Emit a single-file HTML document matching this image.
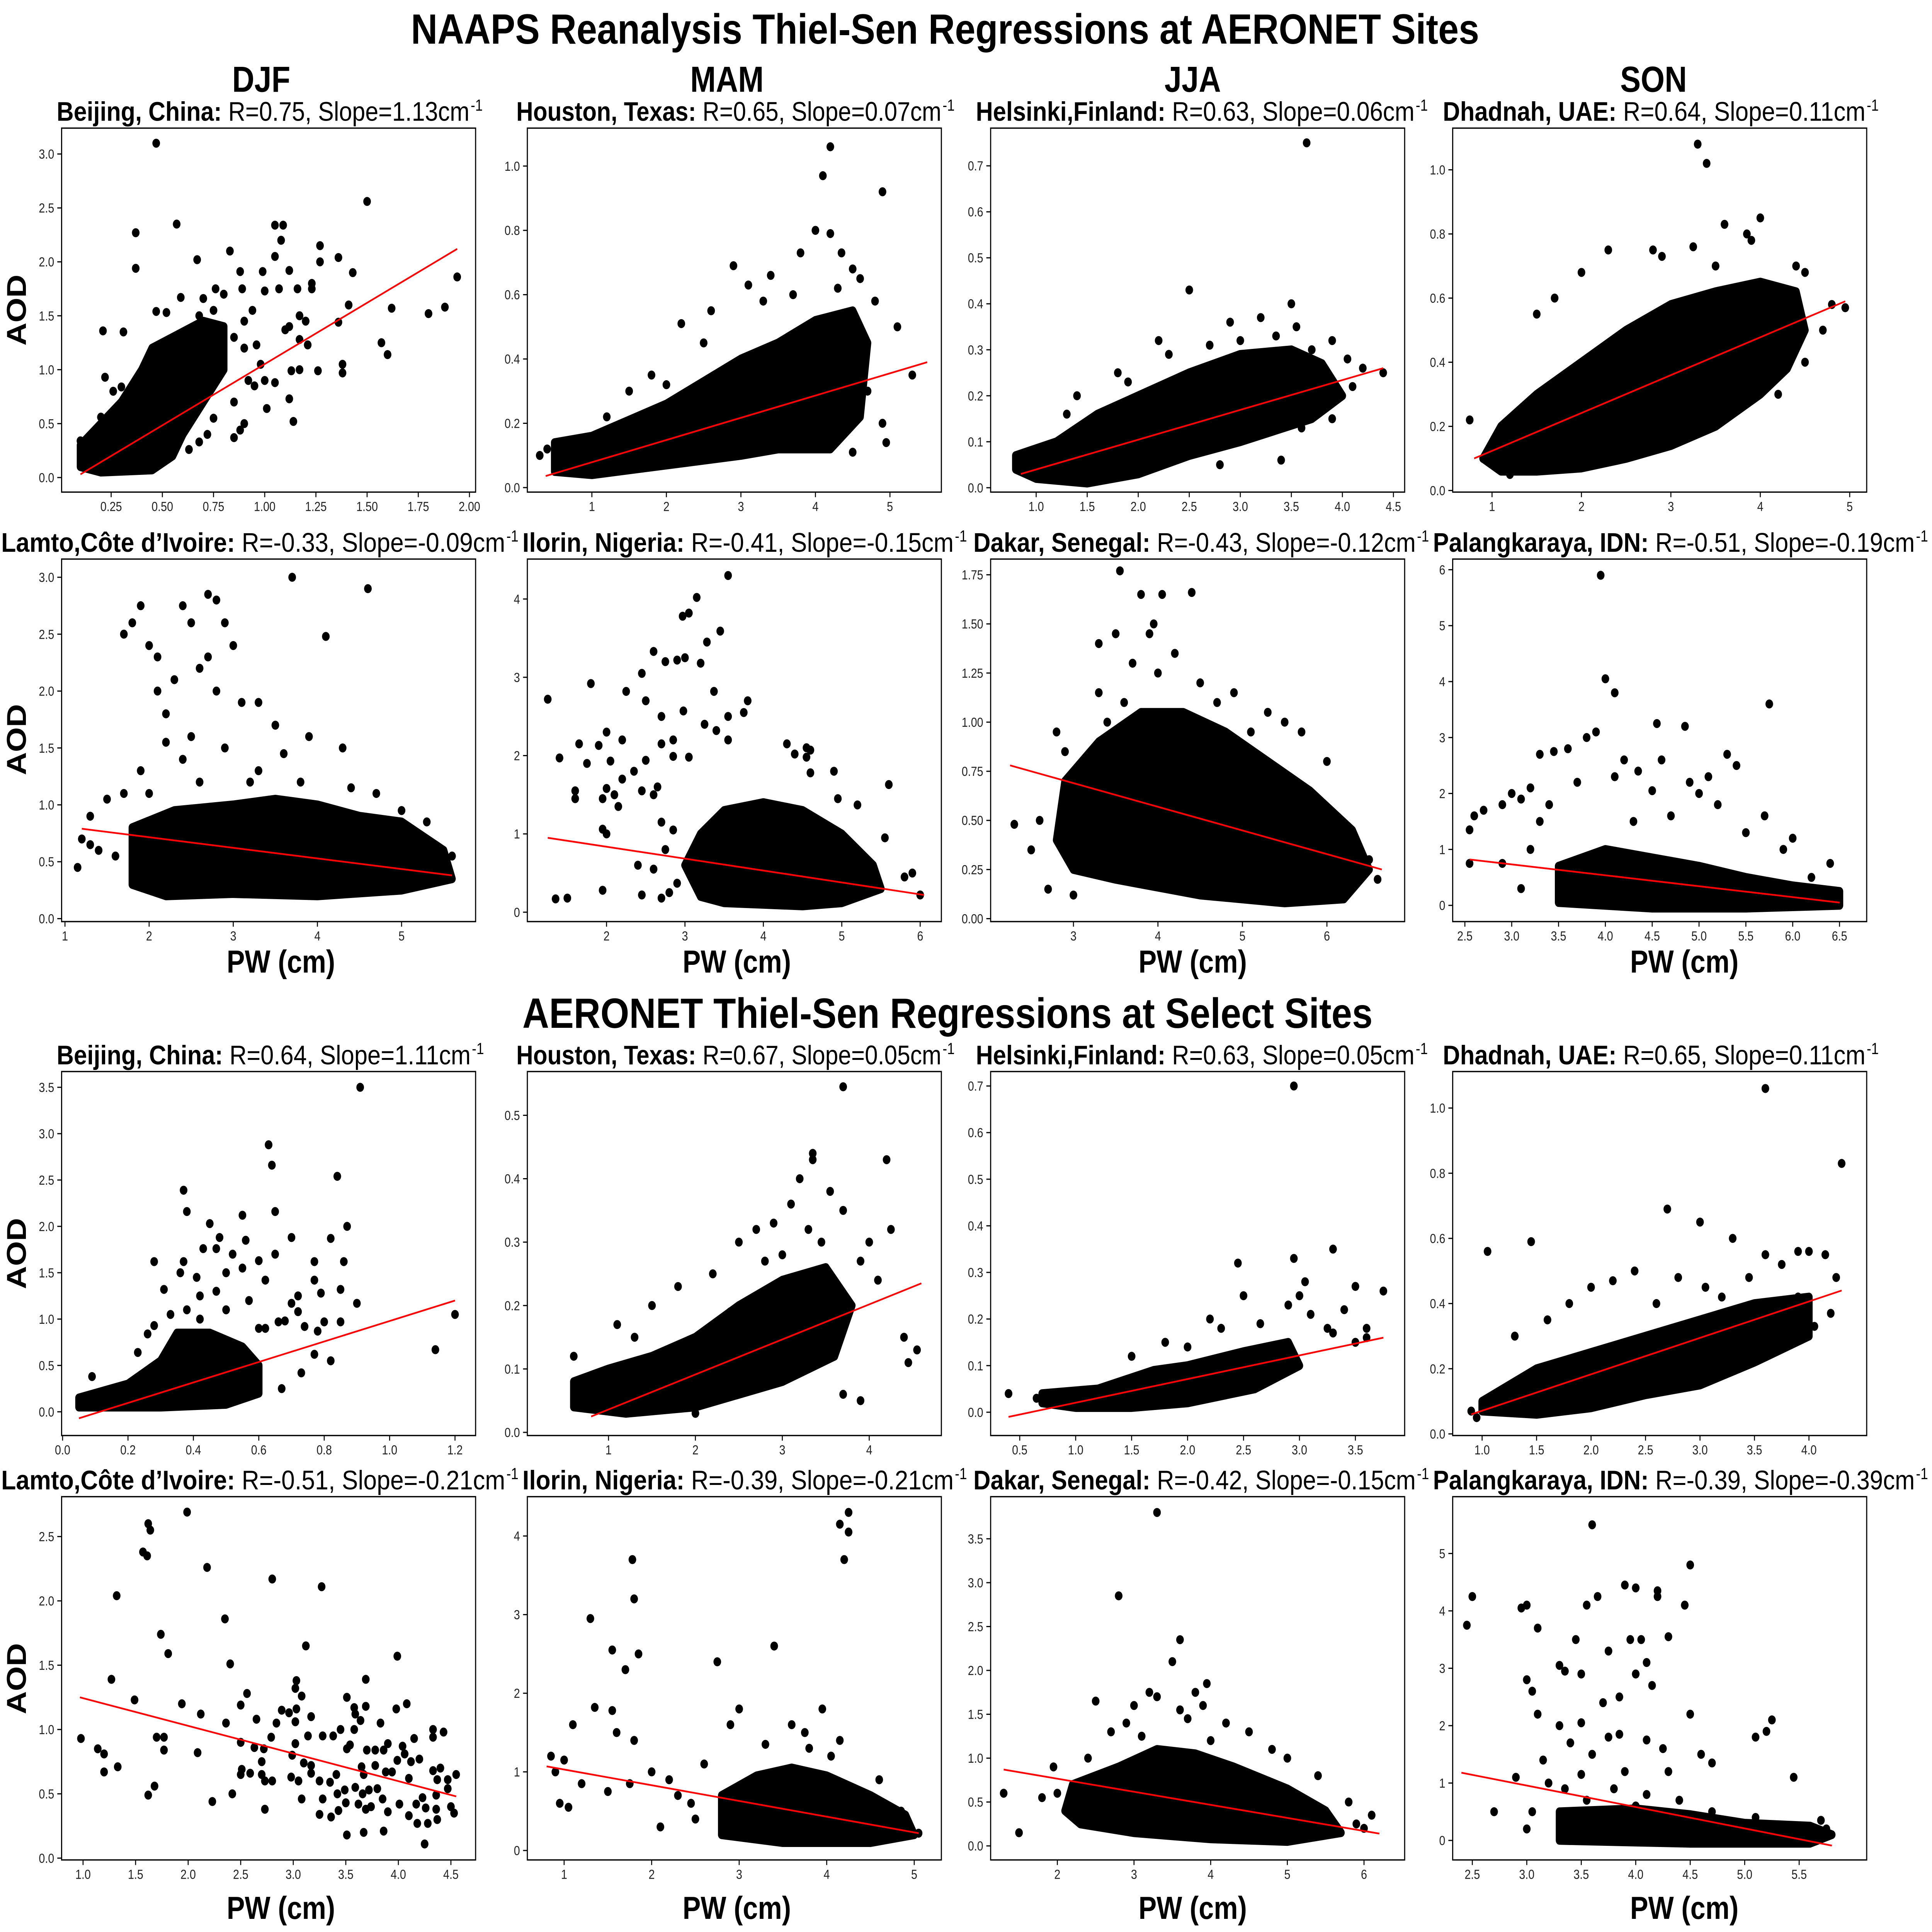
<!DOCTYPE html>
<html><head><meta charset="utf-8"><style>
html,body{margin:0;padding:0;background:#fff;width:100%;height:100%;overflow:hidden;}
svg{display:block;width:100vw;height:100vh;}
text{font-family:"Liberation Sans",sans-serif;}
</style></head><body>
<svg id="fig" xmlns="http://www.w3.org/2000/svg" viewBox="0 0 1568 1327" preserveAspectRatio="none">
<rect width="1568" height="1327" fill="#fff"/>
<text x="767" y="30" font-size="29" font-weight="bold" text-anchor="middle" textLength="867" lengthAdjust="spacingAndGlyphs">NAAPS Reanalysis Thiel-Sen Regressions at AERONET Sites</text>
<text x="212" y="63" font-size="25" font-weight="bold" text-anchor="middle">DJF</text>
<text x="590" y="63" font-size="25" font-weight="bold" text-anchor="middle">MAM</text>
<text x="968" y="63" font-size="25" font-weight="bold" text-anchor="middle">JJA</text>
<text x="1342" y="63" font-size="25" font-weight="bold" text-anchor="middle">SON</text>
<text x="769" y="706" font-size="29" font-weight="bold" text-anchor="middle" textLength="690" lengthAdjust="spacingAndGlyphs">AERONET Thiel-Sen Regressions at Select Sites</text>
<g id="panels"></g>
</svg>
<script>
// ---------- data ----------
const p1XTicks=[0.25,0.5,0.75,1.0,1.25,1.5,1.75,2.0];
const p1YTicks=[0,0.5,1.0,1.5,2.0,2.5,3.0];
const p1Line=[[0.1,0.03],[1.94,2.12]];
const p1Cloud=[[0.1,0.1],[0.1,0.3],[0.2,0.5],[0.3,0.7],[0.4,1.0],[0.45,1.2],[0.55,1.3],[0.7,1.45],[0.8,1.4],[0.8,1.0],[0.7,0.7],[0.6,0.4],[0.55,0.2],[0.45,0.07],[0.2,0.05]];
const p1Pts=[[0.47,3.1],[0.37,2.27],[0.37,1.94],[0.57,2.35],[0.67,2.02],[0.83,2.1],[1.05,2.34],[1.09,2.34],[1.08,2.2],[1.05,2.05],[1.27,2.15],[1.27,2.0],[1.36,2.04],[1.43,1.9],[1.5,2.56],[1.94,1.86],[0.88,1.91],[0.99,1.91],[1.12,1.92],[0.76,1.75],[0.89,1.75],[1.0,1.73],[1.07,1.75],[1.16,1.75],[1.23,1.8],[1.23,1.75],[0.59,1.67],[0.7,1.66],[0.8,1.7],[0.21,1.36],[0.31,1.35],[0.22,0.93],[0.47,1.54],[0.52,1.53],[0.94,1.55],[1.41,1.6],[1.62,1.57],[1.8,1.52],[1.88,1.58],[1.36,1.44],[1.17,1.5],[1.2,1.45],[1.1,1.37],[1.12,1.4],[1.17,1.28],[1.21,1.23],[1.57,1.25],[1.6,1.14],[1.38,1.05],[1.38,0.97],[1.26,0.99],[1.17,1.0],[1.13,0.99],[1.12,0.73],[1.14,0.52],[1.01,0.64],[0.9,0.5],[0.85,0.37],[0.88,0.44],[1.0,0.9],[1.05,0.88],[0.96,1.23],[0.98,1.05],[0.92,0.9],[0.95,0.85],[0.75,1.55],[0.68,1.5],[0.65,1.22],[0.85,1.3],[0.9,1.2],[0.9,1.45],[0.26,0.8],[0.3,0.84],[0.2,0.56],[0.18,0.45],[0.14,0.34],[0.1,0.34],[0.85,0.7],[0.75,0.55],[0.63,0.26],[0.68,0.33],[0.72,0.4]];

const p2XTicks=[1,2,3,4,5];
const p2YTicks=[0,0.2,0.4,0.6,0.8,1.0];
const p2Line=[[0.38,0.036],[5.5,0.39]];
const p2Cloud=[[0.5,0.05],[0.5,0.14],[1,0.16],[2,0.26],[2.5,0.33],[3,0.40],[3.5,0.45],[4,0.52],[4.5,0.55],[4.7,0.45],[4.6,0.22],[4.2,0.12],[3.5,0.12],[3,0.10],[2,0.07],[1,0.04]];
const p2Pts=[[4.2,1.06],[4.1,0.97],[4.9,0.92],[4.0,0.8],[4.2,0.79],[3.8,0.73],[4.35,0.73],[4.5,0.68],[2.9,0.69],[3.4,0.66],[3.7,0.6],[3.1,0.63],[2.6,0.55],[2.2,0.51],[3.3,0.58],[4.6,0.65],[5.3,0.35],[5.1,0.5],[4.95,0.14],[4.7,0.3],[4.9,0.2],[0.4,0.12],[0.3,0.1],[1.5,0.3],[1.8,0.35],[2.5,0.45],[3.9,0.2],[4.5,0.11],[2.0,0.32],[1.2,0.22],[4.8,0.58],[4.3,0.62]];

const p3XTicks=[1.0,1.5,2.0,2.5,3.0,3.5,4.0,4.5];
const p3YTicks=[0,0.1,0.2,0.3,0.4,0.5,0.6,0.7];
const p3Line=[[0.85,0.03],[4.4,0.26]];
const p3Cloud=[[0.8,0.04],[0.8,0.07],[1.2,0.1],[1.6,0.16],[2.0,0.2],[2.5,0.25],[3,0.29],[3.5,0.3],[3.8,0.27],[4.0,0.2],[3.7,0.15],[3.0,0.1],[2.5,0.07],[2,0.03],[1.5,0.01],[1.0,0.02]];
const p3Pts=[[3.65,0.75],[2.5,0.43],[3.5,0.4],[3.2,0.37],[2.9,0.36],[3.35,0.33],[2.7,0.31],[3.9,0.32],[4.05,0.28],[3.7,0.3],[4.4,0.25],[4.2,0.26],[2.2,0.32],[1.8,0.25],[1.4,0.2],[3.9,0.15],[3.6,0.13],[3.4,0.06],[2.8,0.05],[1.3,0.16],[2.3,0.29],[3.0,0.32],[4.1,0.22],[3.55,0.35],[1.9,0.23]];

const p4XTicks=[1,2,3,4,5];
const p4YTicks=[0,0.2,0.4,0.6,0.8,1.0];
const p4Line=[[0.8,0.1],[4.95,0.59]];
const p4Cloud=[[0.9,0.1],[1.1,0.2],[1.5,0.3],[2,0.4],[2.5,0.5],[3,0.58],[3.5,0.62],[4,0.65],[4.4,0.62],[4.5,0.5],[4.3,0.38],[4,0.3],[3.5,0.2],[3,0.14],[2.5,0.1],[2,0.07],[1.5,0.06],[1.1,0.06]];
const p4Pts=[[3.3,1.08],[3.4,1.02],[2.3,0.75],[3.6,0.83],[4.0,0.85],[4.4,0.7],[4.5,0.68],[3.85,0.8],[2.9,0.73],[2.0,0.68],[1.7,0.6],[1.5,0.55],[2.8,0.75],[3.25,0.76],[4.8,0.58],[4.7,0.5],[4.95,0.57],[0.75,0.22],[0.9,0.1],[1.2,0.05],[4.2,0.3],[4.5,0.4],[3.9,0.78],[3.5,0.7]];

const p5XTicks=[1,2,3,4,5];
const p5YTicks=[0,0.5,1.0,1.5,2.0,2.5,3.0];
const p5Line=[[1.2,0.79],[5.6,0.38]];
const p5Cloud=[[1.8,0.3],[1.8,0.8],[2.3,0.95],[3,1.0],[3.5,1.05],[4,1.0],[4.5,0.9],[5,0.85],[5.5,0.6],[5.6,0.35],[5,0.25],[4,0.2],[3,0.22],[2.2,0.2]];
const p5Pts=[[2.7,2.85],[2.8,2.8],[1.9,2.75],[2.4,2.75],[2.5,2.6],[1.7,2.5],[1.8,2.6],[2.0,2.4],[2.9,2.6],[3.0,2.4],[3.7,3.0],[4.1,2.48],[4.6,2.9],[2.1,2.3],[2.3,2.1],[2.6,2.2],[2.1,2.0],[2.7,2.3],[3.3,1.9],[3.5,1.7],[2.2,1.8],[2.5,1.6],[3.1,1.9],[2.8,2.0],[3.9,1.6],[4.3,1.5],[2.4,1.4],[2.9,1.5],[1.9,1.3],[2.6,1.2],[3.3,1.3],[1.5,1.05],[1.3,0.9],[1.2,0.7],[1.15,0.45],[1.4,0.6],[1.6,0.55],[1.7,1.1],[2.0,1.1],[3.2,1.2],[3.8,1.2],[4.4,1.15],[5.0,0.95],[5.3,0.85],[5.6,0.55],[1.3,0.65],[2.2,1.55],[3.6,1.45],[4.7,1.1]];

const p6XTicks=[2,3,4,5,6];
const p6YTicks=[0,1,2,3,4];
const p6Line=[[1.25,0.95],[6.05,0.22]];
const p6Cloud=[[3.2,0.2],[3.0,0.6],[3.2,1.0],[3.5,1.3],[4,1.4],[4.5,1.3],[5,1.0],[5.4,0.6],[5.5,0.3],[5,0.12],[4.5,0.08],[4,0.1],[3.5,0.12]];
const p6Pts=[[3.55,4.3],[3.15,4.02],[2.97,3.78],[3.05,3.82],[3.45,3.59],[3.28,3.45],[2.6,3.33],[2.75,3.2],[2.9,3.22],[3.0,3.25],[3.2,3.18],[2.45,3.05],[1.8,2.92],[1.25,2.72],[2.25,2.82],[2.5,2.7],[3.37,2.82],[3.8,2.7],[3.75,2.55],[2.7,2.5],[2.98,2.57],[3.55,2.5],[3.25,2.4],[3.4,2.32],[2.0,2.3],[2.2,2.2],[2.85,2.2],[3.55,2.2],[2.7,2.15],[1.65,2.15],[1.9,2.13],[1.4,1.97],[1.75,1.9],[2.05,1.93],[2.5,1.94],[2.85,1.99],[3.05,1.98],[2.35,1.8],[2.2,1.7],[1.6,1.55],[1.6,1.45],[2.0,1.58],[2.1,1.5],[1.95,1.45],[2.45,1.55],[2.15,1.35],[2.6,1.5],[2.65,1.6],[4.3,2.15],[4.4,2.02],[4.55,2.1],[4.6,2.07],[4.55,1.98],[4.9,1.8],[4.6,1.78],[5.6,1.63],[5.2,1.37],[4.95,1.45],[5.55,0.95],[5.9,0.5],[5.8,0.45],[6.0,0.22],[1.95,0.28],[1.35,0.17],[1.5,0.18],[2.45,0.22],[2.7,0.18],[2.4,0.6],[1.95,1.06],[2.0,1.0],[2.75,0.8],[2.6,0.55],[2.8,0.25],[2.9,0.37],[2.85,1.05],[2.7,1.15]];

const p7XTicks=[3,4,5,6];
const p7YTicks=[0,0.25,0.5,0.75,1.0,1.25,1.5,1.75];
const p7Line=[[2.25,0.78],[6.65,0.25]];
const p7Cloud=[[2.8,0.4],[2.9,0.7],[3.3,0.9],[3.8,1.05],[4.3,1.05],[4.8,0.95],[5.3,0.8],[5.8,0.65],[6.3,0.45],[6.5,0.25],[6.2,0.1],[5.5,0.08],[4.5,0.12],[3.5,0.2],[3.0,0.25]];
const p7Pts=[[3.55,1.77],[3.8,1.65],[4.05,1.65],[4.4,1.66],[3.95,1.5],[3.9,1.45],[3.5,1.45],[3.3,1.4],[3.7,1.3],[4.2,1.35],[4.0,1.25],[3.3,1.15],[3.6,1.1],[4.5,1.2],[4.9,1.15],[5.3,1.05],[5.5,1.0],[5.7,0.95],[6.0,0.8],[2.3,0.48],[2.5,0.35],[2.6,0.5],[2.8,0.95],[2.9,0.85],[3.1,0.7],[2.7,0.15],[3.0,0.12],[6.6,0.2],[6.5,0.3],[4.7,1.1],[5.1,0.95],[3.4,1.0]];

const p8XTicks=[2.5,3.0,3.5,4.0,4.5,5.0,5.5,6.0,6.5];
const p8YTicks=[0,1,2,3,4,5,6];
const p8Line=[[2.55,0.82],[6.5,0.05]];
const p8Cloud=[[3.5,0.05],[3.5,0.7],[4,1.0],[4.5,0.85],[5,0.7],[5.5,0.5],[6,0.35],[6.5,0.25],[6.5,0.0],[5.5,-0.05],[4.5,-0.05]];
const p8Pts=[[3.95,5.9],[4.0,4.05],[4.1,3.8],[4.85,3.2],[4.55,3.25],[5.4,2.5],[5.3,2.7],[5.1,2.3],[4.6,2.6],[4.9,2.2],[4.2,2.6],[4.35,2.4],[3.6,2.8],[3.3,2.7],[3.45,2.75],[3.2,2.1],[3.0,2.0],[2.9,1.8],[2.6,1.6],[2.55,1.35],[2.7,1.7],[3.1,1.9],[3.9,3.1],[3.8,3.0],[4.1,2.3],[4.5,2.05],[5.0,2.0],[5.2,1.8],[5.7,1.6],[6.0,1.2],[5.9,1.0],[6.4,0.75],[6.2,0.5],[5.75,3.6],[3.2,1.0],[2.9,0.75],[3.1,0.3],[2.55,0.75],[3.3,1.5],[3.7,2.2],[4.7,1.6],[4.3,1.5],[5.5,1.3],[3.4,1.8]];

const p9XTicks=[0.0,0.2,0.4,0.6,0.8,1.0,1.2];
const p9YTicks=[0,0.5,1.0,1.5,2.0,2.5,3.0,3.5];
const p9Line=[[0.05,-0.07],[1.2,1.2]];
const p9Cloud=[[0.05,0.05],[0.05,0.15],[0.2,0.3],[0.3,0.55],[0.35,0.85],[0.45,0.85],[0.55,0.7],[0.6,0.5],[0.6,0.2],[0.5,0.08],[0.3,0.05],[0.15,0.05]];
const p9Pts=[[0.91,3.5],[0.63,2.88],[0.64,2.66],[0.84,2.54],[0.37,2.39],[0.38,2.16],[0.65,2.16],[0.55,2.12],[0.45,2.03],[0.87,2.0],[0.48,1.88],[0.7,1.88],[0.82,1.87],[0.56,1.85],[0.43,1.76],[0.47,1.76],[0.52,1.7],[0.65,1.7],[0.28,1.62],[0.37,1.62],[0.6,1.63],[0.77,1.62],[0.86,1.62],[0.36,1.5],[0.5,1.5],[0.62,1.42],[0.77,1.42],[0.85,1.32],[0.31,1.32],[0.72,1.25],[0.79,1.28],[0.47,1.3],[0.42,1.25],[0.7,1.17],[0.9,1.17],[0.57,1.2],[1.2,1.05],[1.14,0.67],[0.66,0.97],[0.72,1.08],[0.68,0.98],[0.74,0.92],[0.8,0.97],[0.85,0.97],[0.78,0.87],[0.82,0.55],[0.77,0.62],[0.73,0.42],[0.67,0.25],[0.6,0.9],[0.28,0.93],[0.26,0.84],[0.23,0.64],[0.09,0.38],[0.42,1.0],[0.5,1.1],[0.62,0.9],[0.55,1.55],[0.41,1.45],[0.33,1.05],[0.38,1.1]];

const p10XTicks=[1,2,3,4];
const p10YTicks=[0,0.1,0.2,0.3,0.4,0.5];
const p10Line=[[0.8,0.025],[4.6,0.235]];
const p10Cloud=[[0.6,0.04],[0.6,0.08],[1,0.1],[1.5,0.12],[2,0.15],[2.5,0.2],[3,0.24],[3.5,0.26],[3.8,0.2],[3.6,0.12],[3,0.08],[2.5,0.06],[2,0.04],[1.2,0.03]];
const p10Pts=[[3.7,0.545],[3.35,0.43],[3.35,0.44],[4.2,0.43],[4.25,0.32],[3.2,0.4],[3.55,0.38],[3.1,0.36],[2.9,0.33],[3.3,0.32],[3.7,0.35],[4.0,0.3],[2.5,0.3],[2.7,0.32],[2.2,0.25],[1.8,0.23],[1.5,0.2],[1.1,0.17],[0.6,0.12],[4.55,0.13],[4.45,0.11],[4.4,0.15],[3.9,0.05],[3.7,0.06],[2.0,0.03],[2.4,0.19],[3.9,0.27],[4.1,0.24],[3.0,0.28],[2.8,0.27],[1.3,0.15],[3.45,0.3]];

const p11XTicks=[0.5,1.0,1.5,2.0,2.5,3.0,3.5];
const p11YTicks=[0,0.1,0.2,0.3,0.4,0.5,0.6,0.7];
const p11Line=[[0.4,-0.01],[3.75,0.16]];
const p11Cloud=[[0.7,0.02],[0.7,0.04],[1.2,0.05],[1.7,0.09],[2,0.1],[2.5,0.13],[2.9,0.15],[3.0,0.1],[2.6,0.05],[2,0.02],[1.5,0.01],[1.0,0.01]];
const p11Pts=[[2.95,0.7],[2.95,0.33],[3.3,0.35],[2.45,0.32],[3.05,0.28],[3.0,0.25],[3.75,0.26],[3.5,0.27],[2.9,0.23],[2.5,0.25],[3.4,0.22],[3.25,0.18],[2.2,0.2],[2.3,0.18],[1.8,0.15],[1.5,0.12],[3.6,0.18],[3.6,0.16],[3.3,0.17],[0.4,0.04],[0.65,0.03],[3.5,0.15],[2.65,0.19],[3.1,0.21],[2.0,0.14],[2.7,0.08]];

const p12XTicks=[1.0,1.5,2.0,2.5,3.0,3.5,4.0];
const p12YTicks=[0,0.2,0.4,0.6,0.8,1.0];
const p12Line=[[0.9,0.06],[4.3,0.44]];
const p12Cloud=[[1.0,0.07],[1.0,0.1],[1.5,0.2],[2,0.25],[2.5,0.3],[3,0.35],[3.5,0.4],[4,0.42],[4.0,0.3],[3.5,0.22],[3,0.15],[2.5,0.12],[2,0.08],[1.5,0.06]];
const p12Pts=[[3.6,1.06],[4.3,0.83],[2.7,0.69],[3.0,0.65],[1.05,0.56],[1.45,0.59],[3.3,0.6],[3.6,0.55],[3.9,0.56],[4.0,0.56],[4.15,0.55],[3.75,0.52],[2.4,0.5],[2.2,0.47],[3.05,0.45],[3.45,0.48],[2.0,0.45],[4.25,0.48],[4.2,0.37],[3.9,0.42],[2.8,0.48],[1.8,0.4],[1.6,0.35],[1.3,0.3],[0.9,0.07],[0.95,0.05],[1.4,0.08],[4.05,0.33],[2.6,0.4],[3.2,0.42]];

const p13XTicks=[1.0,1.5,2.0,2.5,3.0,3.5,4.0,4.5];
const p13YTicks=[0,0.5,1.0,1.5,2.0,2.5];
const p13Line=[[0.97,1.25],[4.55,0.48]];
const p13Cloud=[];
const p13Pts=[[0.98,0.93],[1.14,0.85],[1.2,0.81],[1.2,0.67],[1.27,1.39],[1.32,2.04],[1.33,0.71],[1.49,1.23],[1.57,2.38],[1.61,2.35],[1.62,2.6],[1.64,2.55],[1.62,0.49],[1.68,0.56],[1.7,0.94],[1.77,0.94],[1.77,0.84],[1.74,1.74],[1.81,1.59],[1.94,1.2],[1.99,2.69],[2.09,0.82],[2.12,1.12],[2.18,2.26],[2.23,0.44],[2.35,1.86],[2.36,1.05],[2.4,1.51],[2.42,0.5],[2.5,1.19],[2.5,0.9],[2.56,1.28],[2.51,0.69],[2.5,0.65],[2.59,0.66],[2.65,1.08],[2.63,0.86],[2.7,0.75],[2.7,0.65],[2.72,0.85],[2.73,0.6],[2.73,0.38],[2.8,2.17],[2.79,0.94],[2.8,0.6],[2.84,1.05],[2.89,1.15],[2.96,1.13],[2.99,0.8],[2.98,0.63],[3.02,1.06],[3.02,0.89],[3.02,1.32],[3.03,1.38],[3.03,1.16],[3.05,0.6],[3.08,1.26],[3.08,0.46],[3.1,0.74],[3.12,1.65],[3.14,0.95],[3.17,1.1],[3.17,0.66],[3.17,0.72],[3.25,0.6],[3.25,0.34],[3.27,2.11],[3.28,0.95],[3.28,0.46],[3.35,0.59],[3.36,0.32],[3.38,0.95],[3.41,0.65],[3.42,0.5],[3.43,0.37],[3.45,1.0],[3.49,0.53],[3.5,0.43],[3.51,1.25],[3.51,0.18],[3.51,0.85],[3.54,0.88],[3.58,1.17],[3.59,1.12],[3.58,1.0],[3.59,0.55],[3.62,0.42],[3.64,1.07],[3.65,0.71],[3.67,0.65],[3.66,0.5],[3.67,0.2],[3.69,1.39],[3.69,1.18],[3.7,0.84],[3.69,0.38],[3.72,0.53],[3.74,0.4],[3.78,0.84],[3.78,0.72],[3.8,0.54],[3.83,1.05],[3.85,0.46],[3.86,0.84],[3.86,0.21],[3.88,0.67],[3.9,0.89],[3.9,0.36],[3.94,0.67],[3.98,1.16],[3.99,1.57],[3.99,0.76],[4.01,0.42],[4.04,0.87],[4.06,0.81],[4.08,1.2],[4.1,0.33],[4.1,0.62],[4.12,0.75],[4.15,0.93],[4.17,0.42],[4.18,0.27],[4.2,0.77],[4.23,0.47],[4.25,0.11],[4.26,0.39],[4.28,0.27],[4.33,0.68],[4.33,1.0],[4.33,0.94],[4.36,0.49],[4.37,0.61],[4.36,0.38],[4.37,0.3],[4.4,0.7],[4.43,0.98],[4.47,0.61],[4.47,0.54],[4.5,0.4],[4.53,0.35],[4.55,0.65]];

const p14XTicks=[1,2,3,4,5];
const p14YTicks=[0,1,2,3,4];
const p14Line=[[0.8,1.07],[5.05,0.22]];
const p14Cloud=[[2.8,0.2],[2.8,0.7],[3.2,0.95],[3.6,1.05],[4,0.95],[4.5,0.7],[4.9,0.45],[5.0,0.2],[4.5,0.1],[3.5,0.1]];
const p14Pts=[[4.25,4.3],[4.15,4.15],[4.25,4.05],[4.2,3.7],[1.78,3.7],[1.8,3.2],[1.3,2.95],[1.55,2.55],[1.85,2.5],[3.4,2.6],[2.75,2.4],[1.7,2.3],[1.35,1.82],[1.55,1.78],[1.6,1.5],[1.8,1.4],[1.1,1.6],[1.0,1.15],[0.85,1.2],[0.9,1.0],[1.2,0.85],[0.95,0.6],[1.05,0.55],[1.5,0.75],[2.0,1.0],[2.2,0.9],[2.45,0.6],[2.5,0.4],[2.9,1.6],[3.0,1.8],[3.6,1.6],[3.75,1.5],[3.95,1.8],[4.15,1.4],[4.05,1.2],[4.6,0.9],[4.85,0.5],[5.05,0.22],[2.6,1.1],[2.3,0.7],[1.75,0.85],[3.8,1.3],[3.3,1.35],[2.1,0.3]];

const p15XTicks=[2,3,4,5,6];
const p15YTicks=[0,0.5,1.0,1.5,2.0,2.5,3.0,3.5];
const p15Line=[[1.3,0.87],[6.2,0.14]];
const p15Cloud=[[2.1,0.4],[2.2,0.7],[2.8,0.9],[3.3,1.1],[3.8,1.05],[4.3,0.9],[5,0.65],[5.5,0.4],[5.7,0.15],[5.0,0.05],[4.0,0.08],[3.0,0.15],[2.3,0.25]];
const p15Pts=[[3.3,3.8],[2.8,2.85],[3.6,2.35],[3.5,2.1],[3.95,1.85],[3.8,1.75],[3.2,1.75],[3.3,1.7],[2.5,1.65],[3.9,1.6],[3.0,1.6],[3.6,1.55],[2.9,1.4],[4.2,1.4],[3.7,1.45],[4.5,1.3],[2.7,1.3],[4.8,1.1],[5.0,1.0],[5.4,0.8],[5.8,0.5],[6.1,0.35],[6.0,0.2],[5.9,0.25],[1.3,0.6],[1.5,0.15],[1.8,0.55],[2.0,0.6],[1.95,0.9],[4.0,1.2],[3.1,1.25],[2.4,1.0]];

const p16XTicks=[2.5,3.0,3.5,4.0,4.5,5.0,5.5];
const p16YTicks=[0,1,2,3,4,5];
const p16Line=[[2.4,1.18],[5.8,-0.09]];
const p16Cloud=[[3.3,0.0],[3.3,0.5],[4.0,0.55],[4.5,0.45],[5,0.3],[5.6,0.25],[5.8,0.1],[5.6,-0.05],[4.5,-0.05]];
const p16Pts=[[2.45,3.75],[2.5,4.25],[2.95,4.05],[3.0,4.1],[3.6,5.5],[3.65,4.25],[3.55,4.1],[3.45,3.5],[3.1,3.7],[3.75,3.3],[3.9,4.45],[4.0,4.4],[4.2,4.35],[4.2,4.25],[4.5,4.8],[4.45,4.1],[3.95,3.5],[4.05,3.5],[4.3,3.55],[3.0,2.8],[3.05,2.6],[3.1,2.2],[3.3,3.05],[3.35,2.95],[3.5,2.9],[3.7,2.4],[3.85,2.5],[4.0,2.9],[4.1,3.1],[4.15,2.7],[4.5,2.2],[4.6,1.5],[4.7,1.35],[5.1,1.8],[5.25,2.1],[5.2,1.9],[5.45,1.1],[3.3,2.0],[3.5,2.05],[3.75,1.8],[3.85,1.85],[3.6,1.5],[3.9,1.2],[4.1,1.75],[4.3,1.2],[2.7,0.5],[3.0,0.2],[3.05,0.5],[3.2,1.0],[3.35,0.9],[3.5,1.15],[3.55,0.7],[3.8,0.9],[4.1,0.8],[4.4,0.7],[4.7,0.5],[5.0,0.15],[5.3,0.15],[5.7,0.35],[5.75,0.2],[2.9,1.1],[3.15,1.4],[3.4,1.7],[4.25,1.6],[4.0,0.6],[3.7,0.5],[5.1,0.4]];

// ---------- layout ----------
const NS='http://www.w3.org/2000/svg';
const colL=[50,428,804,1179], W=336;
const rowT=[88,384,736,1028], rowB=[338,633,986,1277.5];
const panels=[
 {n:1,r:0,c:0,xd:[0.008,2.03],yd:[-0.135,3.24],xt:p1XTicks,yt:p1YTicks,xf:2,yf:1,ln:p1Line,cl:p1Cloud,pt:p1Pts,b:'Beijing, China:',t:' R=0.75, Slope=1.13cm',x0:46,x1:391},
 {n:2,r:0,c:1,xd:[0.134,5.69],yd:[-0.014,1.118],xt:p2XTicks,yt:p2YTicks,xf:0,yf:1,ln:p2Line,cl:p2Cloud,pt:p2Pts,b:'Houston, Texas:',t:' R=0.65, Slope=0.07cm',x0:419,x1:774},
 {n:3,r:0,c:2,xd:[0.554,4.61],yd:[-0.0095,0.782],xt:p3XTicks,yt:p3YTicks,xf:1,yf:1,ln:p3Line,cl:p3Cloud,pt:p3Pts,b:'Helsinki,Finland:',t:' R=0.63, Slope=0.06cm',x0:792,x1:1158},
 {n:4,r:0,c:3,xd:[0.56,5.19],yd:[-0.005,1.13],xt:p4XTicks,yt:p4YTicks,xf:0,yf:1,ln:p4Line,cl:p4Cloud,pt:p4Pts,b:'Dhadnah, UAE:',t:' R=0.64, Slope=0.11cm',x0:1171,x1:1524},
 {n:5,r:1,c:0,xd:[0.96,5.88],yd:[-0.026,3.16],xt:p5XTicks,yt:p5YTicks,xf:0,yf:1,ln:p5Line,cl:p5Cloud,pt:p5Pts,b:'Lamto,Côte d’Ivoire:',t:' R=-0.33, Slope=-0.09cm',x0:1,x1:420},
 {n:6,r:1,c:1,xd:[0.99,6.27],yd:[-0.12,4.51],xt:p6XTicks,yt:p6YTicks,xf:0,yf:0,ln:p6Line,cl:p6Cloud,pt:p6Pts,b:'Ilorin, Nigeria:',t:' R=-0.41, Slope=-0.15cm',x0:424,x1:784},
 {n:7,r:1,c:2,xd:[2.02,6.92],yd:[-0.015,1.83],xt:p7XTicks,yt:p7YTicks,xf:0,yf:2,ln:p7Line,cl:p7Cloud,pt:p7Pts,b:'Dakar, Senegal:',t:' R=-0.43, Slope=-0.12cm',x0:790,x1:1159},
 {n:8,r:1,c:3,xd:[2.37,6.79],yd:[-0.29,6.19],xt:p8XTicks,yt:p8YTicks,xf:1,yf:0,ln:p8Line,cl:p8Cloud,pt:p8Pts,b:'Palangkaraya, IDN:',t:' R=-0.51, Slope=-0.19cm',x0:1163,x1:1564},
 {n:9,r:2,c:0,xd:[-0.003,1.263],yd:[-0.256,3.67],xt:p9XTicks,yt:p9YTicks,xf:1,yf:1,ln:p9Line,cl:p9Cloud,pt:p9Pts,b:'Beijing, China:',t:' R=0.64, Slope=1.11cm',x0:46,x1:392},
 {n:10,r:2,c:1,xd:[0.066,4.83],yd:[-0.005,0.569],xt:p10XTicks,yt:p10YTicks,xf:0,yf:1,ln:p10Line,cl:p10Cloud,pt:p10Pts,b:'Houston, Texas:',t:' R=0.67, Slope=0.05cm',x0:419,x1:774},
 {n:11,r:2,c:2,xd:[0.24,3.94],yd:[-0.05,0.731],xt:p11XTicks,yt:p11YTicks,xf:1,yf:1,ln:p11Line,cl:p11Cloud,pt:p11Pts,b:'Helsinki,Finland:',t:' R=0.63, Slope=0.05cm',x0:792,x1:1158},
 {n:12,r:2,c:3,xd:[0.73,4.53],yd:[-0.005,1.112],xt:p12XTicks,yt:p12YTicks,xf:1,yf:1,ln:p12Line,cl:p12Cloud,pt:p12Pts,b:'Dhadnah, UAE:',t:' R=0.65, Slope=0.11cm',x0:1171,x1:1524},
 {n:13,r:3,c:0,xd:[0.796,4.735],yd:[-0.014,2.81],xt:p13XTicks,yt:p13YTicks,xf:1,yf:1,ln:p13Line,cl:p13Cloud,pt:p13Pts,b:'Lamto,Côte d’Ivoire:',t:' R=-0.51, Slope=-0.21cm',x0:1,x1:420},
 {n:14,r:3,c:1,xd:[0.58,5.31],yd:[-0.12,4.5],xt:p14XTicks,yt:p14YTicks,xf:0,yf:0,ln:p14Line,cl:p14Cloud,pt:p14Pts,b:'Ilorin, Nigeria:',t:' R=-0.39, Slope=-0.21cm',x0:424,x1:784},
 {n:15,r:3,c:2,xd:[1.13,6.53],yd:[-0.16,3.98],xt:p15XTicks,yt:p15YTicks,xf:0,yf:1,ln:p15Line,cl:p15Cloud,pt:p15Pts,b:'Dakar, Senegal:',t:' R=-0.42, Slope=-0.15cm',x0:790,x1:1159},
 {n:16,r:3,c:3,xd:[2.32,6.12],yd:[-0.34,5.99],xt:p16XTicks,yt:p16YTicks,xf:1,yf:0,ln:p16Line,cl:p16Cloud,pt:p16Pts,b:'Palangkaraya, IDN:',t:' R=-0.39, Slope=-0.39cm',x0:1163,x1:1564}
];
const root=document.getElementById('panels');
function mk(tag,attrs,parent){const e=document.createElementNS(NS,tag);for(const k in attrs)e.setAttribute(k,attrs[k]);(parent||root).appendChild(e);return e;}

panels.forEach(p=>{
  const L=colL[p.c],R=L+W,T=rowT[p.r],B=rowB[p.r];
  const sx=v=>L+(v-p.xd[0])/(p.xd[1]-p.xd[0])*W;
  const sy=v=>B-(v-p.yd[0])/(p.yd[1]-p.yd[0])*(B-T);
  const g=mk('g',{});
  
  
  const clipId='clip'+p.n;
  const cp=mk('clipPath',{id:clipId},g);
  mk('rect',{x:L,y:T,width:W,height:B-T},cp);
  const plot=mk('g',{'clip-path':'url(#'+clipId+')'},g);
  if(p.cl.length){
    const poly=mk('polygon',{points:p.cl.map(d=>sx(d[0])+','+sy(d[1])).join(' '),fill:'#000',stroke:'#000','stroke-width':6,'stroke-linejoin':'round'},plot);
    
    
  }
  p.pt.forEach(d=>{
    const c=mk('circle',{cx:sx(d[0]),cy:sy(d[1]),r:3.1,fill:'#000'},plot);
    
    
  });
  const rl=mk('line',{x1:sx(p.ln[0][0]),y1:sy(p.ln[0][1]),x2:sx(p.ln[1][0]),y2:sy(p.ln[1][1]),stroke:'#f00','stroke-width':1.2},plot);
  
  
  const fr=mk('rect',{x:L,y:T,width:W,height:B-T,fill:'none',stroke:'#000','stroke-width':0.9},g);
  
  
  p.xt.forEach(v=>{
    const x=sx(v);
    mk('line',{x1:x,y1:B,x2:x,y2:B+3.5,stroke:'#000','stroke-width':0.8},g);
    const t=mk('text',{x:x,y:B+13,'font-size':9,fill:'#222','text-anchor':'middle'},g);
    t.textContent=v.toFixed(p.xf);
    
    
  });
  p.yt.forEach(v=>{
    const y=sy(v);
    mk('line',{x1:L-3.5,y1:y,x2:L,y2:y,stroke:'#000','stroke-width':0.8},g);
    const t=mk('text',{x:L-6,y:y+3.2,'font-size':9,fill:'#222','text-anchor':'end'},g);
    t.textContent=v.toFixed(p.yf);
    
    
  });
  const ty=T-5;
  const tt=mk('text',{x:p.x0,y:ty,'font-size':18.5,textLength:(p.x1-p.x0-10),lengthAdjust:'spacingAndGlyphs'},g);
  
  
  const tb=mk('tspan',{'font-weight':'bold'},tt); tb.textContent=p.b;
  const tn=mk('tspan',{},tt); tn.textContent=p.t;
  const sup=mk('text',{x:p.x1-9,y:ty-7,'font-size':11},g);
  sup.textContent='-1';
  
  
});
// axis titles
[[0,213],[1,508],[2,861],[3,1153]].forEach(a=>{
  const t=mk('text',{x:0,y:0,'font-size':22,'font-weight':'bold','text-anchor':'middle',transform:'translate(21,'+a[1]+') rotate(-90)'});
  t.textContent='AOD';
  
  
});
[668,1318].forEach(y=>{[228,598,968,1367].forEach(x=>{
  const t=mk('text',{x:x,y:y,'font-size':22,'font-weight':'bold','text-anchor':'middle'});
  t.textContent='PW (cm)';
  
  
});});
</script>
</body></html>
